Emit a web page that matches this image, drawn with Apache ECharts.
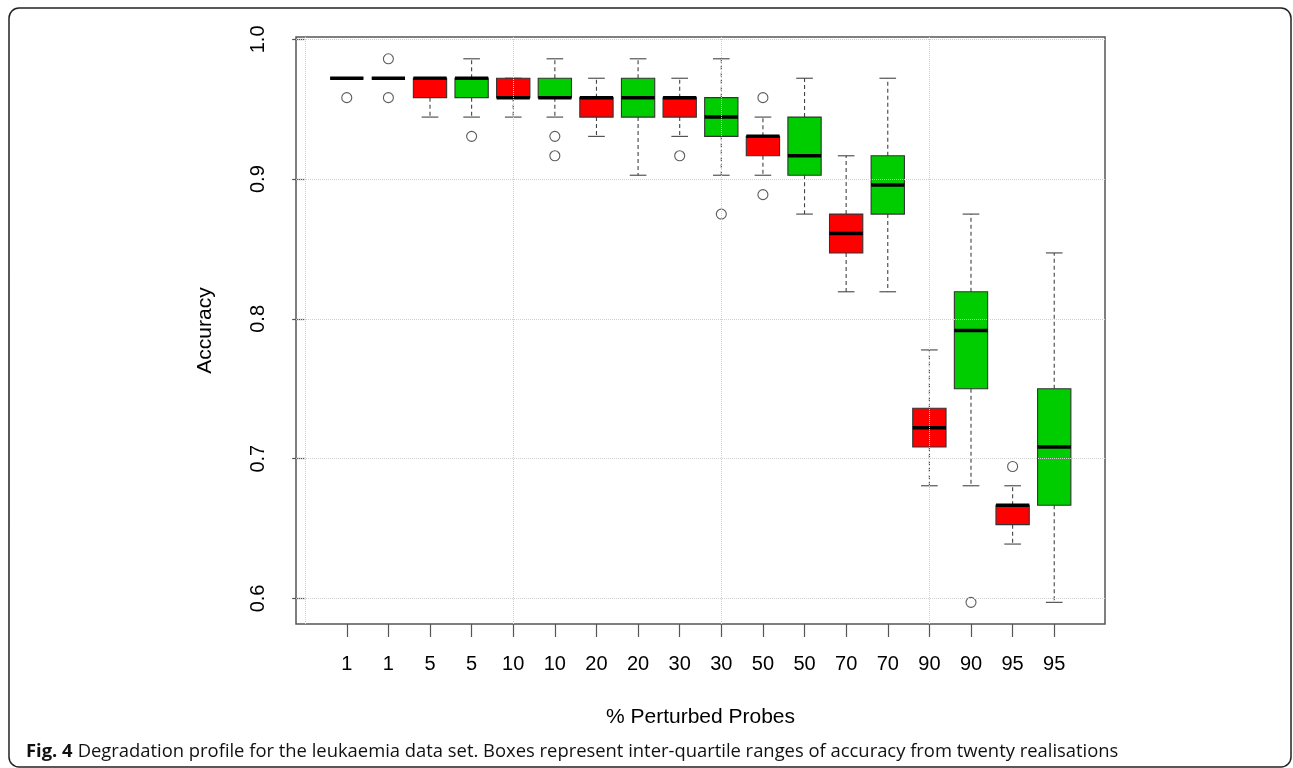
<!DOCTYPE html>
<html>
<head>
<meta charset="utf-8">
<style>
  html, body { margin: 0; padding: 0; background: #fff; }
  #chart { width: 1293px; height: 768px; }
</style>
<script src="https://cdn.jsdelivr.net/npm/echarts@6/dist/echarts.min.js"></script>
</head>
<body>
<div id="chart"></div>
<script>
// ---- data ----
var categories = ['1','1','5','5','10','10','20','20','30','30','50','50','70','70','90','90','95','95'];
var mins    = [0.9722,0.9722,0.9444,0.9444,0.9444,0.9444,0.9306,0.9028,0.9306,0.9028,0.9028,0.8750,0.8194,0.8194,0.6806,0.6806,0.6389,0.5972];
var q1s     = [0.9722,0.9722,0.9583,0.9583,0.9583,0.9583,0.9444,0.9444,0.9444,0.9306,0.9167,0.9028,0.8472,0.8750,0.7083,0.7500,0.6528,0.6667];
var medians = [0.9722,0.9722,0.9722,0.9722,0.9583,0.9583,0.9583,0.9583,0.9583,0.9444,0.9306,0.9167,0.8611,0.8958,0.7222,0.7917,0.6667,0.7083];
var q3s     = [0.9722,0.9722,0.9722,0.9722,0.9722,0.9722,0.9583,0.9722,0.9583,0.9583,0.9306,0.9444,0.8750,0.9167,0.7361,0.8194,0.6667,0.7500];
var maxs    = [0.9722,0.9722,0.9722,0.9861,0.9722,0.9861,0.9722,0.9861,0.9722,0.9861,0.9444,0.9722,0.9167,0.9722,0.7778,0.8750,0.6806,0.8472];
// outliers: [box number (1-based), accuracy]
var outliers = [[1,0.9583],[2,0.9861],[2,0.9583],[4,0.9306],[6,0.9306],[6,0.9167],[9,0.9167],[10,0.8750],[11,0.9583],[11,0.8889],[16,0.5972],[17,0.6944]];
var yTicks = [0.6, 0.7, 0.8, 0.9, 1.0];
var xGridLines = [0, 5, 10, 15];
var captionBold = 'Fig. 4';
var captionText = 'Degradation profile for the leukaemia data set. Boxes represent inter-quartile ranges of accuracy from twenty realisations';

// ---- build ----
var boxData = categories.map(function (c, i) {
  return [i + 1, mins[i], q1s[i], medians[i], q3s[i], maxs[i]];
});
var xTickValues = categories.map(function (c, i) { return i + 1; });
var fills = ['#FF0000', '#00CD00'];
var FONT = 'Liberation Sans, Arial, sans-serif';

var chart = echarts.init(document.getElementById('chart'));
chart.setOption({
  animation: false,
  backgroundColor: '#fff',
  title: {
    left: 21, top: 738,
    text: '{b|' + captionBold + '} {n|' + captionText + '}',
    textStyle: {
      fontWeight: 'normal',
      rich: {
        b: { fontFamily: 'Open Sans', fontWeight: 'bold', fontSize: 18.4, color: '#111' },
        n: { fontFamily: 'Open Sans', fontWeight: 'normal', fontSize: 18.4, color: '#111' }
      }
    }
  },
  graphic: [{
    type: 'rect', silent: true, z: -1,
    shape: { x: 9, y: 8, width: 1282, height: 759, r: 10 },
    style: { fill: 'none', stroke: '#222', lineWidth: 1.5 }
  }],
  grid: {
    left: 296, top: 37, width: 809, height: 587,
    show: true, borderColor: '#555', borderWidth: 1.5, backgroundColor: 'transparent'
  },
  xAxis: {
    type: 'value', min: -0.22, max: 19.22,
    name: '% Perturbed Probes', nameLocation: 'middle', nameGap: 83,
    nameTextStyle: { fontFamily: FONT, fontSize: 21, color: '#000' },
    axisLine: { show: false },
    splitLine: { show: false },
    axisTick: { show: true, customValues: xTickValues, length: 13, lineStyle: { color: '#555', width: 1.2 } },
    axisLabel: {
      customValues: xTickValues, margin: 30,
      fontFamily: FONT, fontSize: 20, color: '#000',
      formatter: function (v) { return categories[Math.round(v) - 1] || ''; }
    }
  },
  yAxis: {
    type: 'value', min: 0.5817, max: 1.0017,
    name: 'Accuracy', nameLocation: 'middle', nameGap: 80, nameRotate: 90,
    nameTextStyle: { fontFamily: FONT, fontSize: 21, color: '#000' },
    axisLine: { show: false },
    splitLine: { show: false },
    axisTick: { show: true, customValues: yTicks, length: 13, lineStyle: { color: '#555', width: 1.2 } },
    axisLabel: {
      customValues: yTicks, margin: 28, rotate: 90,
      fontFamily: FONT, fontSize: 20, color: '#000',
      formatter: function (v) { return v.toFixed(1); }
    }
  },
  series: [{
    type: 'custom',
    data: boxData,
    encode: { x: 0, y: [1, 2, 3, 4, 5] },
    clip: false,
    renderItem: function (params, api) {
      var x = api.value(0);
      var pMin = api.coord([x, api.value(1)]);
      var pQ1 = api.coord([x, api.value(2)]);
      var pMed = api.coord([x, api.value(3)]);
      var pQ3 = api.coord([x, api.value(4)]);
      var pMax = api.coord([x, api.value(5)]);
      var bw = api.size([0.8, 0])[0];
      var cw = bw / 2;
      var cx = pMed[0];
      var wStyle = { stroke: '#444', lineWidth: 1.1, lineDash: [4, 3] };
      var cStyle = { stroke: '#444', lineWidth: 1.1 };
      var fill = fills[params.dataIndex % 2];
      return {
        type: 'group',
        children: [
          { type: 'line', shape: { x1: cx, y1: pQ3[1], x2: cx, y2: pMax[1] }, style: wStyle },
          { type: 'line', shape: { x1: cx, y1: pQ1[1], x2: cx, y2: pMin[1] }, style: wStyle },
          { type: 'line', shape: { x1: cx - cw / 2, y1: pMax[1], x2: cx + cw / 2, y2: pMax[1] }, style: cStyle },
          { type: 'line', shape: { x1: cx - cw / 2, y1: pMin[1], x2: cx + cw / 2, y2: pMin[1] }, style: cStyle },
          { type: 'rect', shape: { x: cx - bw / 2, y: pQ3[1], width: bw, height: pQ1[1] - pQ3[1] },
            style: { fill: fill, stroke: '#333', lineWidth: 1.1 } },
          { type: 'line', shape: { x1: cx - bw / 2, y1: pMed[1], x2: cx + bw / 2, y2: pMed[1] },
            style: { stroke: '#000', lineWidth: 3.5 } }
        ]
      };
    },
    markLine: {
      silent: true, symbol: 'none', label: { show: false },
      lineStyle: { type: 'dotted', color: '#d0d0d0', width: 1 },
      data: xGridLines.map(function (v) { return { xAxis: v }; })
        .concat(yTicks.map(function (v) { return { yAxis: v }; }))
    },
    z: 2
  }, {
    type: 'scatter',
    data: outliers,
    symbol: 'circle', symbolSize: 10,
    itemStyle: { color: 'rgba(255,255,255,0)', borderColor: '#333', borderWidth: 1.1 },
    z: 3
  }]
});
</script>
</body>
</html>
